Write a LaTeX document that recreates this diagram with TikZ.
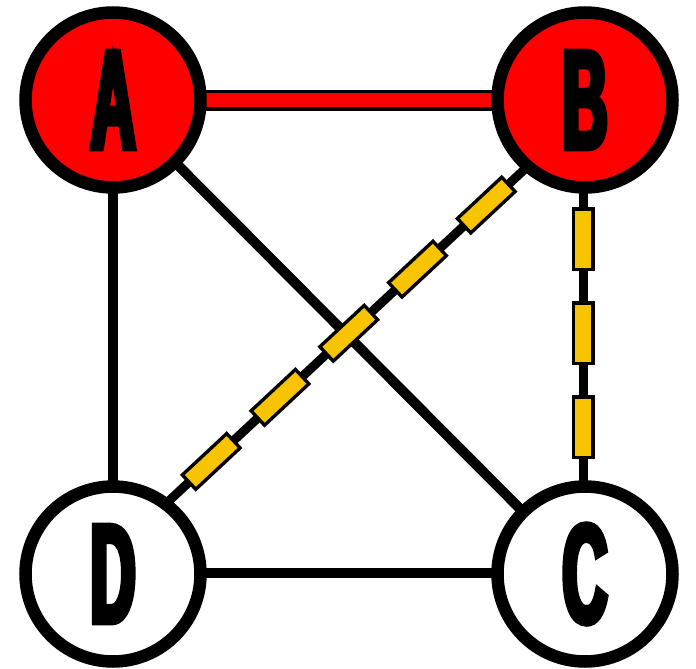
\documentclass[tikz,border=0pt]{standalone}
\usepackage{fontspec}
\newfontfamily\letterfont[FakeStretch=0.44,FakeBold=4]{Liberation Sans Bold}
\usetikzlibrary{backgrounds,calc}
\definecolor{nodered}{RGB}{255,0,0}
\definecolor{dashyellow}{RGB}{248,196,0}
\begin{document}
\begin{tikzpicture}[x=1pt,y=-1pt,
  vertex/.style={circle, draw=black, line width=12.5pt, minimum size=175pt, inner sep=0pt,
    font=\letterfont\fontsize{141pt}{141pt}\selectfont},
  hot/.style={vertex, fill=nodered},
  cold/.style={vertex, fill=white},
  plainedge/.style={draw=black, line width=10pt},
  redouter/.style={draw=black, line width=21pt},
  redinner/.style={draw=nodered, line width=14pt},
  dashcore/.style={draw=black, line width=9pt},
  dashouter/.style={draw=black, line width=23pt, dash pattern=on 64pt off 30pt},
  dashinner/.style={draw=dashyellow, line width=16pt, dash pattern=on 57pt off 37pt}]
\useasboundingbox (0,0) rectangle (696,669);
\node[hot]  (A) at (113,100) {A};
\node[hot]  (B) at (585,100) {B};
\node[cold] (C) at (585,574) {C};
\node[cold] (D) at (113,574) {D};
\begin{scope}[on background layer]
  % plain edges
  \draw[plainedge] (A.center) -- (D.center);
  \draw[plainedge] ($(D.center)+(0,-1)$) -- ($(C.center)+(0,-1)$);
  \draw[plainedge] (A.center) -- (C.center);
  % red edge
  \draw[redouter] (A.center) -- (B.center);
  \draw[redinner] (A.center) -- (B.center);
  % dashed B--C
  \coordinate (bc1) at ($(B.center)+(-2,0)$);
  \coordinate (bc2) at ($(C.center)+(-2,0)$);
  \draw[dashcore] (bc1) -- (bc2);
  \draw[dashouter, dash phase=81pt] (bc1) -- (bc2);
  \draw[dashinner, dash phase=77.5pt] (bc1) -- (bc2);
  % dashed B--D
  \coordinate (bd1) at ($(B.center)+(0,13)$);
  \coordinate (bd2) at ($(D.center)+(0,-21)$);
  \draw[dashcore] (bd1) -- (bd2);
  \draw[dashouter, dash phase=85pt] (bd1) -- (bd2);
  \draw[dashinner, dash phase=81.5pt] (bd1) -- (bd2);
\end{scope}
\end{tikzpicture}
\end{document}
